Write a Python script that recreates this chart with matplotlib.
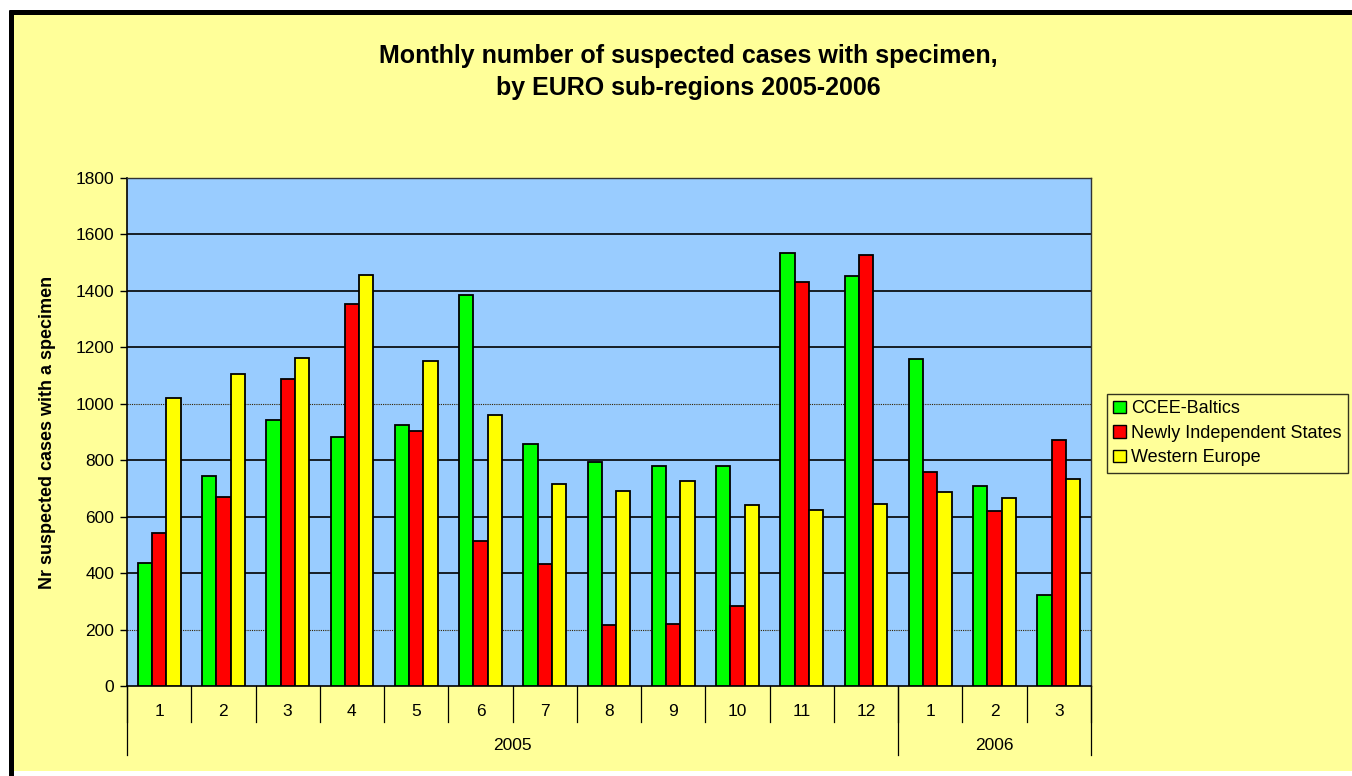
import numpy as np
import matplotlib
matplotlib.use("Agg")
import matplotlib.pyplot as plt
from matplotlib.patches import Rectangle, Patch
from matplotlib.lines import Line2D
import matplotlib.transforms as mtransforms

plt.rcParams['font.family'] = ['Liberation Sans', 'DejaVu Sans']

# data
months = ['1', '2', '3', '4', '5', '6', '7', '8', '9', '10', '11', '12', '1', '2', '3']
years = ['2005', '2006']
year_len = [12, 3]
series_names = ['CCEE-Baltics', 'Newly Independent States', 'Western Europe']
ccee = [436, 744, 944, 881, 925, 1385, 856, 793, 780, 778, 1533, 1452, 1159, 707, 322]
nis = [542, 670, 1088, 1355, 905, 513, 432, 215, 220, 283, 1433, 1527, 760, 620, 872]
western = [1022, 1107, 1163, 1457, 1153, 961, 715, 692, 727, 641, 622, 645, 687, 667, 733]
colors = ['#00FF00', '#FF0000', '#FFFF00']

W, H = 1352, 776
fig = plt.figure(figsize=(W / 100, H / 100), dpi=100)
fig.patch.set_facecolor('white')

# yellow chart area, thick black frame on top and left
fig.patches.append(Rectangle((13 / W, 5 / H), 1, 1 - 14 / H - 5 / H,
                             transform=fig.transFigure, facecolor='#FFFF99',
                             edgecolor='none', zorder=-9))
fig.lines.append(Line2D([10.5 / W, 10.5 / W], [0, 1 - 10.2 / H], transform=fig.transFigure,
                        color='black', linewidth=3.6, solid_capstyle='butt'))
fig.lines.append(Line2D([8.7 / W, 1], [1 - 12 / H, 1 - 12 / H], transform=fig.transFigure,
                        color='black', linewidth=3.6, solid_capstyle='butt'))

ax = fig.add_axes([127 / W, 1 - 686 / H, (1091 - 127) / W, (686 - 178) / H])
ax.set_facecolor('#99CCFF')

x = np.arange(len(months))
w = 1 / 4.5
for i, (vals, c, name) in enumerate(zip([ccee, nis, western], colors, series_names)):
    ax.bar(x + (i - 1) * w, vals, width=w, color=c, edgecolor='black',
           linewidth=1.3, label=name, zorder=3)

ax.set_xlim(-0.5, len(months) - 0.5)
ax.set_ylim(0, 1800)
ax.set_yticks(np.arange(0, 1801, 200))
ax.tick_params(axis='y', direction='out', length=5, width=1, labelsize=12.5, pad=4)

# gridlines (200 and 1000 look dotted in the reference)
for yv in range(200, 1800, 200):
    if yv in (200, 1000):
        ax.axhline(yv, color='#332200', linewidth=0.8, linestyle=(0, (1, 1)), zorder=1)
    else:
        ax.axhline(yv, color='black', linewidth=1.2, zorder=1)

for s in ['top', 'right']:
    ax.spines[s].set_color('#333333')
    ax.spines[s].set_linewidth(1.0)
ax.spines['left'].set_linewidth(1.2)
ax.spines['bottom'].set_linewidth(1.2)

# two-level category axis
ax.set_xticks([])
trans = mtransforms.blended_transform_factory(ax.transData, ax.transAxes)
for i, m in enumerate(months):
    ax.text(i, -0.051, m, transform=trans, ha='center', va='center', fontsize=12.5)
for i in range(len(months) + 1):
    ax.plot([i - 0.5, i - 0.5], [0, -0.071], transform=trans, color='black',
            linewidth=0.9, clip_on=False)
start = 0
for yr, n in zip(years, year_len):
    ax.text(start + n / 2 - 0.5, -0.118, yr, transform=trans, ha='center',
            va='center', fontsize=12.5)
    start += n
bounds = np.concatenate([[0], np.cumsum(year_len)])
for b in bounds:
    ax.plot([b - 0.5, b - 0.5], [0, -0.136], transform=trans, color='black',
            linewidth=0.9, clip_on=False)

ax.set_ylabel('Nr suspected cases with a specimen', fontsize=13, fontweight='bold',
              labelpad=14)

fig.text(688 / W, 1 - 72 / H,
         'Monthly number of suspected cases with specimen,\nby EURO sub-regions 2005-2006',
         ha='center', va='center', fontsize=18, fontweight='bold', linespacing=1.4)

handles = [Patch(facecolor=c, edgecolor='black', linewidth=1.0) for c in colors]
leg = fig.legend(handles, series_names, loc='upper left',
                 bbox_to_anchor=(1107 / W, 1 - 394 / H), fontsize=13,
                 frameon=True, fancybox=False, borderaxespad=0,
                 handlelength=0.7, handleheight=0.7, handletextpad=0.3,
                 labelspacing=0.42, borderpad=0.35)
leg.get_frame().set_facecolor('#FFFF99')
leg.get_frame().set_edgecolor('black')
leg.get_frame().set_linewidth(1.0)

fig.savefig('out.png', dpi=100, facecolor=fig.get_facecolor())
